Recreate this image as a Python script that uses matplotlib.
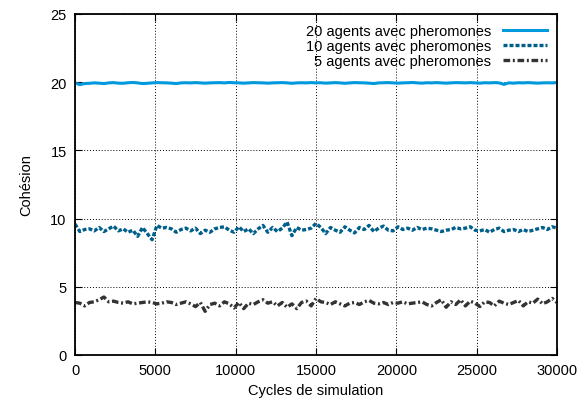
import numpy as np
import matplotlib.pyplot as plt

plt.rcParams['font.family'] = ['Liberation Sans', 'DejaVu Sans']

# cycles de simulation (pas de 300)
cycles = np.arange(0, 30001, 300)

coh20 = [19.95, 19.82, 19.9, 19.92, 19.95, 19.93, 19.9, 19.95, 19.97, 19.93,
         19.92, 19.96, 19.98, 19.95, 19.9, 19.92, 19.95, 19.97, 19.96, 19.95,
         19.93, 19.9, 19.95, 19.96, 19.95, 19.97, 19.95, 19.93, 19.95, 19.96,
         19.97, 19.95, 19.98, 19.96, 19.95, 19.93, 19.95, 19.97, 19.96, 19.95,
         19.93, 19.95, 19.96, 19.97, 19.95, 19.92, 19.95, 19.96, 19.95, 19.97,
         19.95, 19.96, 19.93, 19.95, 19.97, 19.95, 19.92, 19.95, 19.97, 19.96,
         19.95, 19.93, 19.9, 19.95, 19.96, 19.97, 19.95, 19.93, 19.95, 19.96,
         19.98, 19.95, 19.93, 19.96, 19.95, 19.97, 19.95, 19.93, 19.95, 19.97,
         19.96, 19.95, 19.97, 19.95, 19.93, 19.96, 19.95, 19.97, 19.95, 19.84,
         19.95, 19.93, 19.96, 19.95, 19.97, 19.95, 19.93, 19.95, 19.96, 19.95, 19.97]

coh10 = [9.6, 9.05, 9.2, 9.25, 9.1, 9.35, 9.05, 9.25, 9.45, 9.1,
         9.25, 9.0, 9.15, 8.7, 9.35, 8.9, 8.45, 9.5, 9.3, 9.35,
         9.25, 9.0, 9.2, 9.3, 9.1, 9.3, 8.9, 9.15, 9.0, 9.25,
         9.35, 9.4, 9.15, 9.0, 9.4, 9.05, 9.25, 8.9, 9.25, 9.5,
         9.0, 9.35, 9.05, 9.3, 9.75, 8.75, 9.35, 9.15, 9.2, 9.3,
         9.65, 9.35, 8.9, 9.35, 9.15, 9.0, 9.4, 9.15, 8.95, 9.35,
         9.2, 9.5, 9.05, 9.3, 9.45, 9.15, 9.1, 9.4, 9.2, 9.3,
         9.15, 9.35, 9.2, 9.3, 9.25, 9.15, 9.05, 9.15, 9.2, 9.35,
         9.25, 9.3, 9.4, 9.15, 9.1, 9.2, 9.0, 9.2, 9.3, 9.05,
         9.15, 9.2, 9.05, 9.2, 9.05, 9.15, 9.25, 9.35, 9.2, 9.4, 9.3]

coh5 = [3.85, 3.8, 3.6, 3.85, 3.9, 4.05, 4.25, 3.9, 3.95, 3.85,
        3.8, 3.9, 3.75, 3.8, 3.85, 3.9, 3.85, 3.75, 3.8, 3.9,
        3.85, 3.7, 3.8, 3.9, 3.75, 3.55, 3.85, 3.2, 3.7, 3.8,
        3.6, 3.9, 3.75, 3.45, 3.85, 3.4, 3.8, 3.7, 3.9, 4.05,
        3.8, 3.9, 3.6, 3.85, 3.5, 3.75, 3.4, 3.85, 3.95, 3.6,
        4.15, 3.9, 3.85, 3.7, 3.9, 3.75, 3.6, 3.8, 3.85, 3.7,
        3.9, 4.0, 3.8, 3.75, 3.85, 3.7, 3.85, 3.8, 3.9, 3.75,
        3.8, 3.85, 3.9, 3.7, 3.6, 3.85, 4.05, 3.5, 3.9, 3.7,
        4.05, 3.6, 3.95, 3.8, 3.55, 3.9, 3.85, 3.6, 3.95, 3.8,
        3.7, 3.85, 4.0, 3.6, 3.9, 3.8, 4.1, 3.75, 3.9, 4.15, 3.85]

labels = ['20 agents avec pheromones', '10 agents avec pheromones', '5 agents avec pheromones']

fig = plt.figure(figsize=(5.84, 4.06), dpi=100)
ax = fig.add_axes([75/584, 50/406, 482/584, 341/406])

ax.plot(cycles, coh20, color='#0099dd', lw=2.2, label=labels[0])
ax.plot(cycles, coh10, color='#005f8a', lw=2.4, ls=(0, (1.2, 0.6)), label=labels[1])
ax.plot(cycles, coh5, color='#333333', lw=2.4, ls=(0, (2.0, 0.8, 0.6, 0.8)), label=labels[2])

ax.set_xlim(0, 30000)
ax.set_ylim(0, 25)
ax.set_xticks(range(0, 30001, 5000))
ax.set_yticks(range(0, 26, 5))
ax.grid(True, color='black', ls=(0, (1, 2)), lw=0.7)
ax.tick_params(direction='in', top=True, right=True, length=5, labelsize=10.5, pad=6)
for s in ax.spines.values():
    s.set_linewidth(1.3)

ax.set_xlabel('Cycles de simulation', fontsize=10.5)
ax.set_ylabel('Cohésion', fontsize=10.5, labelpad=12)

leg = ax.legend(loc='upper right', frameon=False, markerfirst=False, fontsize=10.5,
                handlelength=3.0, labelspacing=0.05, borderaxespad=0.3, handletextpad=0.8)

fig.savefig('out.png', dpi=100)
